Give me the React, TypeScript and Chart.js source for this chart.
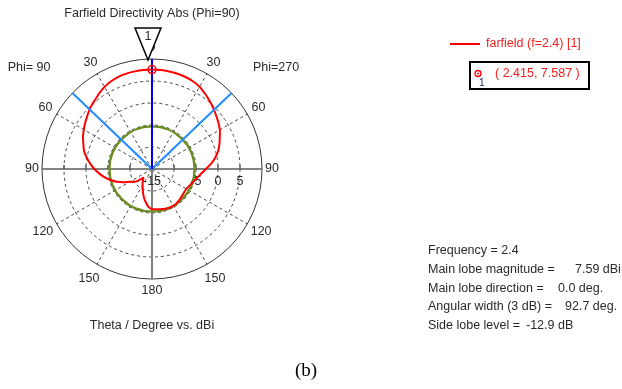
import React, { useEffect, useRef } from 'react';
import { Chart, registerables } from 'chart.js';

Chart.register(...registerables);

// Theta grid (degrees), clockwise from top: 0..180 on the Phi=270 side, then back up the Phi=90 side
const thetaLabels = [
  0, 5, 10, 15, 20, 25, 30, 35, 40, 45, 50, 55, 60, 65, 70, 75, 80, 85, 90,
  95, 100, 105, 110, 115, 120, 125, 130, 135, 140, 145, 150, 155, 160, 165, 170, 175, 180,
  -175, -170, -165, -160, -155, -150, -145, -140, -135, -130, -125, -120, -115, -110, -105, -100,
  -95, -90, -85, -80, -75, -70, -65, -60, -55, -50, -45, -40, -35, -30, -25, -20, -15, -10, -5,
];

// Directivity (dBi), Phi=270 side, theta = 0..180 step 5
const phi270Side = [
  7.59, 7.58, 7.52, 7.42, 7.25, 7.0, 6.6, 5.95, 5.3, 4.65, 4.0, 3.4, 2.8, 2.0, 1.3, 0.55, -0.45, -1.55, -2.75,
  -3.7, -4.4, -5.0, -5.4, -5.75, -6.0, -6.0, -5.9, -5.75, -5.55, -5.4, -5.3, -5.35, -5.45, -5.6, -5.7, -5.8, -5.85,
];

// Directivity (dBi), Phi=90 side, theta = 5..175 step 5
const phi90Side = [
  7.58, 7.53, 7.45, 7.3, 7.0, 6.55, 5.95, 5.3, 4.8, 4.1, 3.5, 2.9, 2.3, 1.6, 1.0, 0.1, -0.9, -1.9,
  -3.0, -4.1, -5.3, -6.5, -7.9, -9.2, -9.9, -10.8, -12.2, -11.9, -11.3, -10.7, -10.0, -9.1, -8.1, -7.2, -6.3,
];

const rMin = -15;
const rMax = 10;
const ringValues = [-10, -5, 0, 5];
const axisTickLabels = ['-15', '-5', '0', '5'];
const axisTickValues = [-15, -5, 0, 5];
const spokeAngles = [30, 60, 120, 150, -30, -60, -120, -150];
const angleLabelDeg = [0, 30, 60, 90, 120, 150, 180, -30, -60, -90, -120, -150];
const angleLabelText = ['0', '30', '60', '90', '120', '150', '180', '30', '60', '90', '120', '150'];
const angleLabelDist = [121, 123, 123, 120, 126, 126, 122, 123, 123, 120, 126, 126];

const mainLobeMag = 7.59;
const mainLobeDir = 0.0;
const angularWidth = 92.7;
const sideLobeLevel = -12.9;
const frequency = 2.4;
const markerValue = 7.587;
const markerTheta = 2.415;

const pattern = [...phi270Side, ...phi90Side.slice().reverse()];

const FONT = '"Liberation Sans", Arial, sans-serif';
const TEXT = '#2a2a2a';

const decor = {
  id: 'decor',
  beforeDatasetsDraw(chart: any) {
    const ctx = chart.ctx as CanvasRenderingContext2D;
    const s = chart.scales.r;
    const cx = s.xCenter;
    const cy = s.yCenter;
    const R = s.getDistanceFromCenterForValue(rMax);
    const pt = (deg: number, d: number) => [
      cx + d * Math.sin((deg * Math.PI) / 180),
      cy - d * Math.cos((deg * Math.PI) / 180),
    ];
    ctx.save();
    // dashed rings
    ctx.setLineDash([3, 3]);
    ctx.strokeStyle = '#444';
    ctx.lineWidth = 1;
    ringValues.forEach((v) => {
      const d = s.getDistanceFromCenterForValue(v);
      ctx.beginPath();
      ctx.arc(cx, cy, d, 0, Math.PI * 2);
      ctx.stroke();
    });
    // dashed spokes
    spokeAngles.forEach((a) => {
      const [x, y] = pt(a, R);
      ctx.beginPath();
      ctx.moveTo(cx, cy);
      ctx.lineTo(x, y);
      ctx.stroke();
    });
    ctx.setLineDash([]);
    // outer circle
    ctx.strokeStyle = '#333';
    ctx.lineWidth = 1;
    ctx.beginPath();
    ctx.arc(cx, cy, R, 0, Math.PI * 2);
    ctx.stroke();
    // horizontal axis
    ctx.strokeStyle = '#5a5a5a';
    ctx.lineWidth = 1.5;
    const [lx, ly] = pt(-90, R);
    const [rx, ry] = pt(90, R);
    ctx.beginPath();
    ctx.moveTo(lx, ly);
    ctx.lineTo(rx, ry);
    ctx.stroke();
    // small ticks on the horizontal axis
    ringValues.forEach((v) => {
      const d = s.getDistanceFromCenterForValue(v);
      [cx - d, cx + d].forEach((x) => {
        ctx.beginPath();
        ctx.moveTo(x, cy);
        ctx.lineTo(x, cy - 4);
        ctx.stroke();
      });
    });
    // vertical lower axis
    ctx.strokeStyle = '#808080';
    ctx.lineWidth = 2;
    const [bx, by] = pt(180, R);
    ctx.beginPath();
    ctx.moveTo(cx, cy);
    ctx.lineTo(bx, by);
    ctx.stroke();

    // angle labels
    ctx.fillStyle = TEXT;
    ctx.font = '12.5px ' + FONT;
    ctx.textAlign = 'center';
    ctx.textBaseline = 'middle';
    angleLabelDeg.forEach((a, i) => {
      const [x, y] = pt(a, angleLabelDist[i]);
      ctx.fillText(angleLabelText[i], x, y);
    });
    // axis tick labels
    axisTickValues.forEach((v, i) => {
      const d = s.getDistanceFromCenterForValue(v);
      ctx.fillText(axisTickLabels[i], cx + d, cy + 13);
    });

    // side lobe circle
    ctx.strokeStyle = '#6b8e23';
    ctx.lineWidth = 2.4;
    ctx.beginPath();
    ctx.arc(cx, cy, s.getDistanceFromCenterForValue(mainLobeMag + sideLobeLevel), 0, Math.PI * 2);
    ctx.stroke();
    ctx.restore();
  },
  afterDatasetsDraw(chart: any) {
    const ctx = chart.ctx as CanvasRenderingContext2D;
    const s = chart.scales.r;
    const cx = s.xCenter;
    const cy = s.yCenter;
    const R = s.getDistanceFromCenterForValue(rMax);
    const pt = (deg: number, d: number) => [
      cx + d * Math.sin((deg * Math.PI) / 180),
      cy - d * Math.cos((deg * Math.PI) / 180),
    ];
    ctx.save();
    // 3 dB lines
    ctx.strokeStyle = '#1e8cff';
    ctx.lineWidth = 2;
    [-angularWidth / 2, angularWidth / 2].forEach((a) => {
      const [x, y] = pt(mainLobeDir + a, R);
      ctx.beginPath();
      ctx.moveTo(cx, cy);
      ctx.lineTo(x, y);
      ctx.stroke();
    });
    // main lobe direction
    ctx.strokeStyle = '#0000ee';
    const [tx, ty] = pt(mainLobeDir, R);
    ctx.beginPath();
    ctx.moveTo(cx, cy);
    ctx.lineTo(tx, ty);
    ctx.stroke();

    // marker on curve
    const [mx, my] = pt(0, s.getDistanceFromCenterForValue(markerValue));
    ctx.strokeStyle = '#ff0000';
    ctx.lineWidth = 1.5;
    ctx.beginPath();
    ctx.arc(mx, my, 4, 0, Math.PI * 2);
    ctx.stroke();
    ctx.fillStyle = '#ff0000';
    ctx.beginPath();
    ctx.arc(mx, my, 1.2, 0, Math.PI * 2);
    ctx.fill();

    // triangle marker label
    const apexY = cy - R + 1;
    ctx.fillStyle = '#ffffff';
    ctx.strokeStyle = '#000';
    ctx.lineWidth = 1.5;
    ctx.beginPath();
    ctx.moveTo(cx - 4, apexY);
    ctx.lineTo(cx - 17, apexY - 32);
    ctx.lineTo(cx + 9, apexY - 32);
    ctx.closePath();
    ctx.fill();
    ctx.stroke();
    ctx.fillStyle = TEXT;
    ctx.font = '12.5px ' + FONT;
    ctx.textAlign = 'center';
    ctx.textBaseline = 'middle';
    ctx.fillText('1', cx - 4, apexY - 23);

    // titles
    ctx.fillText('Farfield Directivity Abs (Phi=90)', cx, 14);
    ctx.fillText('Phi= 90', 29, 68);
    ctx.fillText('Phi=270', 276, 68);
    ctx.fillText('Theta / Degree vs. dBi', cx, 326);

    // legend
    ctx.strokeStyle = '#ff0000';
    ctx.lineWidth = 2;
    ctx.beginPath();
    ctx.moveTo(450, 44);
    ctx.lineTo(480, 44);
    ctx.stroke();
    ctx.fillStyle = '#f02020';
    ctx.textAlign = 'left';
    ctx.fillText('farfield (f=' + frequency + ') [1]', 486, 44);

    // marker box
    ctx.strokeStyle = '#000';
    ctx.lineWidth = 2;
    ctx.strokeRect(470, 62, 119, 27);
    ctx.strokeStyle = '#ff0000';
    ctx.lineWidth = 1.3;
    ctx.beginPath();
    ctx.arc(478, 73.5, 3, 0, Math.PI * 2);
    ctx.stroke();
    ctx.fillStyle = '#ff0000';
    ctx.beginPath();
    ctx.arc(478, 73.5, 1, 0, Math.PI * 2);
    ctx.fill();
    ctx.fillStyle = '#1a2a60';
    ctx.font = '10px ' + FONT;
    ctx.fillText('1', 479, 83);
    ctx.fillStyle = '#f02020';
    ctx.font = '12.5px ' + FONT;
    ctx.fillText('( ' + markerTheta.toFixed(3) + ', ' + markerValue.toFixed(3) + ' )', 495, 74);

    // info block
    ctx.fillStyle = TEXT;
    ctx.fillText('Frequency = ' + frequency, 428, 251);
    ctx.fillText('Main lobe magnitude =', 428, 269.5);
    ctx.fillText(mainLobeMag.toFixed(2) + ' dBi', 575, 269.5);
    ctx.fillText('Main lobe direction =', 428, 288.5);
    ctx.fillText(mainLobeDir.toFixed(1) + ' deg.', 558, 288.5);
    ctx.fillText('Angular width (3 dB) =', 428, 307);
    ctx.fillText(angularWidth.toFixed(1) + ' deg.', 565, 307);
    ctx.fillText('Side lobe level =', 428, 326);
    ctx.fillText(sideLobeLevel.toFixed(1) + ' dB', 526, 326);

    // caption
    ctx.fillStyle = '#000';
    ctx.font = '19px "Liberation Serif", "Times New Roman", serif';
    ctx.textAlign = 'center';
    ctx.fillText('(b)', 306, 371);
    ctx.restore();
  },
};

export default function App() {
  const ref = useRef<HTMLCanvasElement | null>(null);
  useEffect(() => {
    if (!ref.current) return;
    const chart = new Chart(ref.current, {
      type: 'radar',
      data: {
        labels: thetaLabels.map(String),
        datasets: [
          {
            data: pattern,
            borderColor: '#ff0000',
            borderWidth: 2,
            pointRadius: 0,
            fill: false,
            tension: 0.15,
          },
        ],
      },
      options: {
        responsive: false,
        animation: false,
        devicePixelRatio: 1,
        layout: { padding: { left: 42, right: 360, top: 59, bottom: 110 } },
        plugins: { legend: { display: false }, tooltip: { enabled: false } },
        scales: {
          r: {
            min: rMin,
            max: rMax,
            ticks: { display: false, stepSize: 5 },
            grid: { display: false },
            angleLines: { display: false },
            pointLabels: { display: false },
          },
        },
      },
      plugins: [decor],
    } as any);
    return () => chart.destroy();
  }, []);
  return (
    <div style={{ position: 'absolute', left: 0, top: 0, width: 622, height: 389, background: '#fff' }}>
      <canvas ref={ref} width={622} height={389} style={{ display: 'block' }} />
    </div>
  );
}
